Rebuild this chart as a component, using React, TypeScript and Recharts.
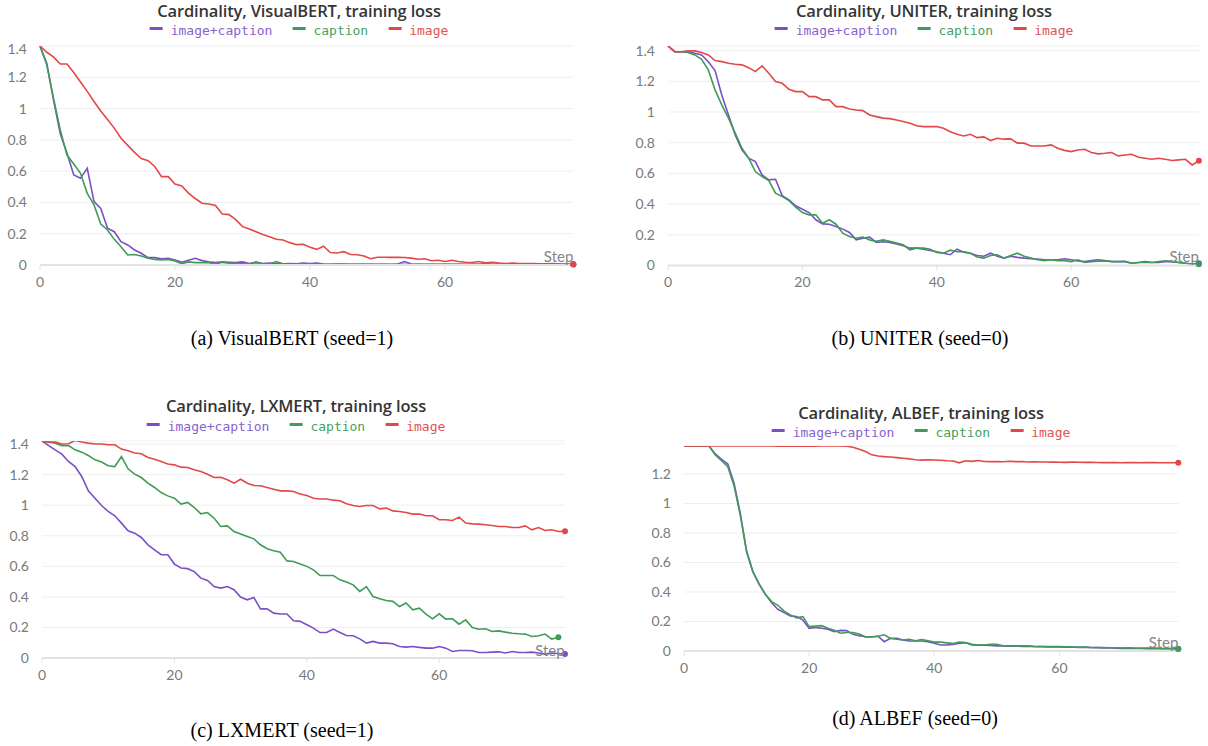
import React from 'react';
import { LineChart, Line, XAxis, YAxis, CartesianGrid, ReferenceDot } from 'recharts';

// series colours (line, legend text)
const PURPLE = '#7b4fc6';
const GREEN = '#3f9c56';
const RED = '#e24848';

const X_TICKS = [0, 20, 40, 60];
const Y_TICKS_14 = [0, 0.2, 0.4, 0.6, 0.8, 1, 1.2, 1.4];
const Y_TICKS_12 = [0, 0.2, 0.4, 0.6, 0.8, 1, 1.2];

// (a) VisualBERT, seed=1
const vbImageCaption = [
  1.4, 1.29, 1.055, 0.838, 0.714, 0.575, 0.554, 0.618, 0.405, 0.362,
  0.235, 0.213, 0.149, 0.128, 0.096, 0.075, 0.047, 0.047, 0.04, 0.043,
  0.032, 0.017, 0.03, 0.043, 0.028, 0.021, 0.015, 0.02, 0.018, 0.015,
  0.02, 0.01, 0.015, 0.01, 0.012, 0.01, 0.008, 0.01, 0.008, 0.012,
  0.01, 0.012, 0.006, 0.005, 0.006, 0.005, 0.005, 0.004, 0.005, 0.004,
  0.005, 0.004, 0.005, 0.006, 0.022, 0.006, 0.004, 0.005, 0.004, 0.005,
  0.004, 0.005, 0.004, 0.004, 0.005, 0.004, 0.005, 0.004, 0.004, 0.005,
  0.004, 0.004, 0.005, 0.004, 0.004, 0.005, 0.004, 0.004, 0.005, 0.005,
];
const vbCaption = [
  1.4, 1.28, 1.066, 0.863, 0.703, 0.646, 0.586, 0.458, 0.384, 0.262,
  0.224, 0.164, 0.117, 0.064, 0.067, 0.058, 0.043, 0.036, 0.032, 0.036,
  0.025, 0.008, 0.02, 0.015, 0.015, 0.015, 0.006, 0.017, 0.012, 0.01,
  0.008, 0.006, 0.02, 0.008, 0.006, 0.022, 0.008, 0.006, 0.005, 0.006,
  0.005, 0.004, 0.005, 0.004, 0.004, 0.006, 0.004, 0.005, 0.004, 0.004,
  0.003, 0.004, 0.003, 0.004, 0.004, 0.003, 0.004, 0.003, 0.004, 0.003,
  0.004, 0.003, 0.004, 0.003, 0.004, 0.004, 0.01, 0.004, 0.003, 0.004,
  0.003, 0.004, 0.003, 0.003, 0.004, 0.003, 0.003, 0.004, 0.003, 0.003,
];
const vbImage = [
  1.4, 1.36, 1.33, 1.285, 1.285, 1.23, 1.17, 1.11, 1.045, 0.985,
  0.93, 0.875, 0.81, 0.765, 0.72, 0.68, 0.667, 0.63, 0.565, 0.565,
  0.518, 0.505, 0.46, 0.425, 0.395, 0.39, 0.38, 0.326, 0.322, 0.29,
  0.245, 0.23, 0.213, 0.195, 0.18, 0.165, 0.16, 0.143, 0.13, 0.133,
  0.113, 0.1, 0.12, 0.08, 0.077, 0.085, 0.067, 0.066, 0.058, 0.04,
  0.05, 0.05, 0.049, 0.049, 0.048, 0.044, 0.037, 0.04, 0.027, 0.03,
  0.022, 0.03, 0.022, 0.018, 0.016, 0.022, 0.014, 0.018, 0.012, 0.01,
  0.012, 0.01, 0.01, 0.009, 0.008, 0.008, 0.01, 0.006, 0.005, 0.005,
];

// (b) UNITER, seed=0
const unImageCaption = [
  1.43, 1.393, 1.393, 1.39, 1.383, 1.372, 1.328, 1.27, 1.111, 0.981,
  0.851, 0.753, 0.699, 0.677, 0.59, 0.558, 0.562, 0.454, 0.428, 0.389,
  0.367, 0.345, 0.298, 0.271, 0.269, 0.254, 0.237, 0.215, 0.167, 0.178,
  0.185, 0.15, 0.155, 0.15, 0.14, 0.128, 0.113, 0.113, 0.106, 0.098,
  0.09, 0.08, 0.07, 0.107, 0.087, 0.08, 0.065, 0.06, 0.08, 0.06,
  0.048, 0.06, 0.053, 0.048, 0.044, 0.042, 0.037, 0.037, 0.037, 0.044,
  0.037, 0.03, 0.025, 0.032, 0.037, 0.032, 0.025, 0.025, 0.025, 0.015,
  0.02, 0.025, 0.02, 0.02, 0.025, 0.025, 0.02, 0.015, 0.01, 0.015,
];
const unCaption = [
  1.43, 1.393, 1.393, 1.388, 1.372, 1.344, 1.274, 1.144, 1.046, 0.96,
  0.862, 0.764, 0.699, 0.612, 0.579, 0.553, 0.471, 0.449, 0.423, 0.38,
  0.345, 0.33, 0.33, 0.276, 0.298, 0.269, 0.211, 0.189, 0.178, 0.185,
  0.167, 0.157, 0.167, 0.157, 0.146, 0.135, 0.102, 0.113, 0.113, 0.106,
  0.085, 0.08, 0.1, 0.09, 0.09, 0.08, 0.055, 0.048, 0.065, 0.07,
  0.048, 0.065, 0.08, 0.06, 0.048, 0.037, 0.032, 0.037, 0.032, 0.032,
  0.025, 0.037, 0.02, 0.025, 0.028, 0.03, 0.027, 0.025, 0.028, 0.015,
  0.02, 0.02, 0.02, 0.025, 0.03, 0.025, 0.02, 0.015, 0.01, 0.008,
];
const unImage = [
  1.43, 1.393, 1.393, 1.398, 1.398, 1.388, 1.372, 1.335, 1.328, 1.318,
  1.311, 1.307, 1.289, 1.263, 1.3, 1.253, 1.198, 1.187, 1.148, 1.133,
  1.133, 1.1, 1.1, 1.079, 1.079, 1.035, 1.035, 1.02, 1.013, 1.009,
  0.981, 0.97, 0.96, 0.957, 0.948, 0.938, 0.927, 0.91, 0.905, 0.905,
  0.905, 0.894, 0.872, 0.855, 0.844, 0.855, 0.833, 0.838, 0.814, 0.829,
  0.823, 0.825, 0.797, 0.797, 0.779, 0.779, 0.779, 0.786, 0.764, 0.75,
  0.742, 0.753, 0.757, 0.736, 0.727, 0.731, 0.736, 0.714, 0.72, 0.725,
  0.705, 0.699, 0.692, 0.699, 0.692, 0.684, 0.688, 0.692, 0.655, 0.682,
];

// (c) LXMERT, seed=1 (caption run stops one step earlier)
const lxImageCaption = [
  1.421, 1.39, 1.362, 1.334, 1.286, 1.253, 1.188, 1.094, 1.046, 0.998,
  0.959, 0.931, 0.883, 0.833, 0.817, 0.789, 0.741, 0.708, 0.676, 0.676,
  0.615, 0.589, 0.585, 0.566, 0.523, 0.508, 0.468, 0.458, 0.468, 0.447,
  0.399, 0.381, 0.397, 0.322, 0.322, 0.294, 0.288, 0.288, 0.244, 0.24,
  0.218, 0.196, 0.167, 0.167, 0.19, 0.167, 0.148, 0.146, 0.126, 0.098,
  0.109, 0.098, 0.098, 0.094, 0.076, 0.072, 0.076, 0.07, 0.065, 0.065,
  0.076, 0.065, 0.043, 0.05, 0.05, 0.048, 0.037, 0.037, 0.039, 0.041,
  0.033, 0.043, 0.037, 0.037, 0.039, 0.033, 0.026, 0.033, 0.03, 0.026,
];
const lxCaption = [
  1.421, 1.413, 1.406, 1.39, 1.39, 1.362, 1.347, 1.325, 1.297, 1.282,
  1.258, 1.253, 1.318, 1.238, 1.203, 1.181, 1.144, 1.116, 1.083, 1.061,
  1.046, 1.007, 1.018, 0.985, 0.944, 0.952, 0.915, 0.861, 0.865, 0.828,
  0.811, 0.795, 0.78, 0.741, 0.715, 0.702, 0.693, 0.636, 0.632, 0.615,
  0.6, 0.577, 0.54, 0.54, 0.54, 0.512, 0.497, 0.479, 0.436, 0.468,
  0.403, 0.388, 0.377, 0.371, 0.337, 0.36, 0.316, 0.327, 0.288, 0.257,
  0.29, 0.255, 0.257, 0.222, 0.25, 0.2, 0.189, 0.192, 0.174, 0.178,
  0.17, 0.163, 0.159, 0.157, 0.141, 0.146, 0.157, 0.124, 0.137,
];
const lxImage = [
  1.415, 1.413, 1.413, 1.4, 1.402, 1.423, 1.413, 1.406, 1.4, 1.4,
  1.395, 1.395, 1.367, 1.356, 1.341, 1.337, 1.312, 1.301, 1.286, 1.27,
  1.264, 1.249, 1.247, 1.232, 1.221, 1.203, 1.181, 1.183, 1.166, 1.144,
  1.17, 1.144, 1.129, 1.127, 1.116, 1.105, 1.094, 1.094, 1.09, 1.073,
  1.064, 1.046, 1.041, 1.041, 1.033, 1.029, 1.009, 0.998, 0.992, 0.998,
  0.998, 0.976, 0.981, 0.963, 0.959, 0.952, 0.942, 0.942, 0.931, 0.931,
  0.905, 0.905, 0.9, 0.922, 0.883, 0.878, 0.876, 0.872, 0.867, 0.861,
  0.861, 0.854, 0.854, 0.865, 0.839, 0.854, 0.835, 0.839, 0.828, 0.83,
];

// (d) ALBEF, seed=0
const alImageCaption = [
  1.39, 1.39, 1.39, 1.39, 1.39, 1.336, 1.3, 1.268, 1.137, 0.933,
  0.673, 0.538, 0.454, 0.384, 0.327, 0.283, 0.26, 0.237, 0.233, 0.21,
  0.154, 0.16, 0.154, 0.147, 0.131, 0.14, 0.138, 0.113, 0.104, 0.097,
  0.097, 0.1, 0.063, 0.086, 0.086, 0.075, 0.068, 0.068, 0.068, 0.063,
  0.052, 0.041, 0.041, 0.045, 0.052, 0.056, 0.041, 0.04, 0.04, 0.038,
  0.035, 0.036, 0.033, 0.034, 0.031, 0.032, 0.029, 0.03, 0.028, 0.029,
  0.027, 0.026, 0.027, 0.024, 0.025, 0.022, 0.023, 0.02, 0.021, 0.019,
  0.018, 0.019, 0.017, 0.018, 0.016, 0.017, 0.016, 0.015, 0.016, 0.015,
];
const alCaption = [
  1.39, 1.39, 1.39, 1.39, 1.39, 1.33, 1.29, 1.25, 1.12, 0.92,
  0.68, 0.54, 0.455, 0.385, 0.335, 0.31, 0.27, 0.245, 0.225, 0.233,
  0.165, 0.17, 0.172, 0.155, 0.14, 0.12, 0.125, 0.125, 0.115, 0.095,
  0.095, 0.1, 0.11, 0.085, 0.08, 0.075, 0.08, 0.07, 0.078, 0.07,
  0.06, 0.06, 0.055, 0.05, 0.06, 0.058, 0.045, 0.04, 0.04, 0.045,
  0.045, 0.035, 0.036, 0.034, 0.035, 0.035, 0.032, 0.031, 0.03, 0.031,
  0.03, 0.028, 0.027, 0.026, 0.027, 0.025, 0.024, 0.023, 0.022, 0.022,
  0.02, 0.021, 0.02, 0.019, 0.02, 0.02, 0.018, 0.017, 0.016, 0.014,
];
const alImage = [
  1.39, 1.39, 1.39, 1.39, 1.39, 1.39, 1.39, 1.39, 1.39, 1.39,
  1.39, 1.39, 1.39, 1.39, 1.39, 1.389, 1.389, 1.389, 1.389, 1.389,
  1.389, 1.389, 1.39, 1.39, 1.39, 1.39, 1.388, 1.381, 1.368, 1.352,
  1.33, 1.322, 1.318, 1.315, 1.311, 1.307, 1.303, 1.297, 1.294, 1.296,
  1.295, 1.293, 1.29, 1.288, 1.276, 1.29, 1.286, 1.292, 1.285, 1.284,
  1.285, 1.283, 1.287, 1.284, 1.285, 1.282, 1.283, 1.282, 1.282, 1.281,
  1.28, 1.279, 1.281, 1.28, 1.279, 1.279, 1.278, 1.277, 1.278, 1.277,
  1.276, 1.277, 1.277, 1.276, 1.278, 1.277, 1.276, 1.276, 1.276, 1.276,
];

const SERIES = [
  { key: 'ic', name: 'image+caption', color: PURPLE, label: '#8762cf' },
  { key: 'cap', name: 'caption', color: GREEN, label: '#469f60' },
  { key: 'img', name: 'image', color: RED, label: '#e25252' },
];

const buildRows = (ic: number[], cap: number[], img: number[]) => {
  const n = Math.max(ic.length, cap.length, img.length);
  return Array.from({ length: n }, (_, i) => ({ step: i, ic: ic[i], cap: cap[i], img: img[i] }));
};

const tickStyle = { fill: '#7a7a7a', fontSize: 14, fontFamily: 'Lato, "Open Sans", sans-serif' };

interface PanelProps {
  title: string;
  caption: string;
  ic: number[];
  cap: number[];
  img: number[];
  yMax: number;
  yTicks: number[];
  plot: { x0: number; x1: number; top: number; bottom: number };
  centerX: number;
  titleY: number;
  legendY: number;
  captionX: number;
  captionY: number;
  stepY: number;
}

const Panel: React.FC<PanelProps> = (p) => {
  const padL = 45;
  const padT = 5;
  const padR = 8;
  const axisH = 30;
  const plotW = p.plot.x1 - p.plot.x0;
  const plotH = p.plot.bottom - p.plot.top;
  const rows = buildRows(p.ic, p.cap, p.img);
  const lists: Record<string, number[]> = { ic: p.ic, cap: p.cap, img: p.img };

  return (
    <>
      <div
        style={{
          position: 'absolute', left: p.centerX, top: p.titleY - 10, transform: 'translateX(-50%)',
          whiteSpace: 'nowrap', fontFamily: '"Open Sans", sans-serif', fontWeight: 600, fontSize: 16.5,
          color: '#353535', lineHeight: '21px', letterSpacing: -0.15,
        }}
      >
        {p.title}
      </div>
      <div
        style={{
          position: 'absolute', left: p.centerX, top: p.legendY - 9, transform: 'translateX(-50%)',
          display: 'flex', alignItems: 'center', whiteSpace: 'nowrap', lineHeight: '18px',
          fontFamily: '"DejaVu Sans Mono", monospace', fontSize: 13,
        }}
      >
        {SERIES.map((s) => (
          <span key={s.key} style={{ display: 'flex', alignItems: 'center', margin: '0 10px', color: s.label }}>
            <span style={{ display: 'inline-block', width: 13, height: 3, background: s.color, marginRight: 8, marginTop: -5 }} />
            {s.name}
          </span>
        ))}
      </div>
      <div style={{ position: 'absolute', left: p.plot.x0 - padL, top: p.plot.top - padT }}>
        <LineChart
          width={plotW + padL + padR}
          height={plotH + padT + axisH}
          data={rows}
          margin={{ top: padT, right: padR, left: 0, bottom: 0 }}
        >
          <CartesianGrid vertical={false} stroke="#eeeeee" />
          <XAxis
            dataKey="step"
            type="number"
            domain={[0, 79]}
            ticks={X_TICKS}
            height={axisH}
            axisLine={{ stroke: '#e2e2e2', strokeWidth: 2 }}
            tickLine={{ stroke: '#e2e2e2' }}
            tickSize={5}
            tickMargin={7}
            tick={tickStyle}
          />
          <YAxis
            type="number"
            domain={[0, p.yMax]}
            ticks={p.yTicks}
            width={padL}
            axisLine={false}
            tickLine={false}
            tickSize={6}
            tickMargin={7}
            tick={tickStyle}
            allowDataOverflow
          />
          {SERIES.map((s) => (
            <Line
              key={s.key}
              dataKey={s.key}
              type="linear"
              stroke={s.color}
              strokeWidth={1.6}
              dot={false}
              activeDot={false}
              isAnimationActive={false}
            />
          ))}
          {SERIES.map((s) => {
            const vals = lists[s.key];
            return (
              <ReferenceDot
                key={`end-${s.key}`}
                x={vals.length - 1}
                y={vals[vals.length - 1]}
                r={3}
                fill={s.color}
                stroke="none"
              />
            );
          })}
        </LineChart>
      </div>
      <div
        style={{
          position: 'absolute', left: p.plot.x1 - 60, width: 60, top: p.stepY - 10, textAlign: 'right',
          fontFamily: 'Lato, sans-serif', fontSize: 15, color: '#858585', lineHeight: '20px',
        }}
      >
        Step
      </div>
      <div
        style={{
          position: 'absolute', left: p.captionX, top: p.captionY - 12, transform: 'translateX(-50%)',
          whiteSpace: 'nowrap', fontFamily: '"Liberation Serif", "Times New Roman", serif', fontSize: 20,
          color: '#000', lineHeight: '24px',
        }}
      >
        {p.caption}
      </div>
    </>
  );
};

export default function App() {
  return (
    <div style={{ position: 'absolute', left: 0, top: 0, width: 1208, height: 746, background: '#fff', overflow: 'hidden' }}>
      <Panel
        title="Cardinality, VisualBERT, training loss"
        caption="(a) VisualBERT (seed=1)"
        ic={vbImageCaption}
        cap={vbCaption}
        img={vbImage}
        yMax={1.4}
        yTicks={Y_TICKS_14}
        plot={{ x0: 40, x1: 573.3, top: 46, bottom: 265 }}
        centerX={299}
        titleY={10}
        legendY={31}
        captionX={292}
        captionY={338}
        stepY={256}
      />
      <Panel
        title="Cardinality, UNITER, training loss"
        caption="(b) UNITER (seed=0)"
        ic={unImageCaption}
        cap={unCaption}
        img={unImage}
        yMax={1.43}
        yTicks={Y_TICKS_14}
        plot={{ x0: 668, x1: 1198.9, top: 46, bottom: 265.5 }}
        centerX={924}
        titleY={10}
        legendY={31}
        captionX={920}
        captionY={338}
        stepY={256}
      />
      <Panel
        title="Cardinality, LXMERT, training loss"
        caption="(c) LXMERT (seed=1)"
        ic={lxImageCaption}
        cap={lxCaption}
        img={lxImage}
        yMax={1.42}
        yTicks={Y_TICKS_14}
        plot={{ x0: 41.7, x1: 564.7, top: 441.2, bottom: 658.3 }}
        centerX={296}
        titleY={405}
        legendY={427}
        captionX={282}
        captionY={730}
        stepY={650}
      />
      <Panel
        title="Cardinality, ALBEF, training loss"
        caption="(d) ALBEF (seed=0)"
        ic={alImageCaption}
        cap={alCaption}
        img={alImage}
        yMax={1.39}
        yTicks={Y_TICKS_12}
        plot={{ x0: 684, x1: 1178.3, top: 446, bottom: 651 }}
        centerX={921}
        titleY={412}
        legendY={433}
        captionX={915}
        captionY={718}
        stepY={642}
      />
    </div>
  );
}
